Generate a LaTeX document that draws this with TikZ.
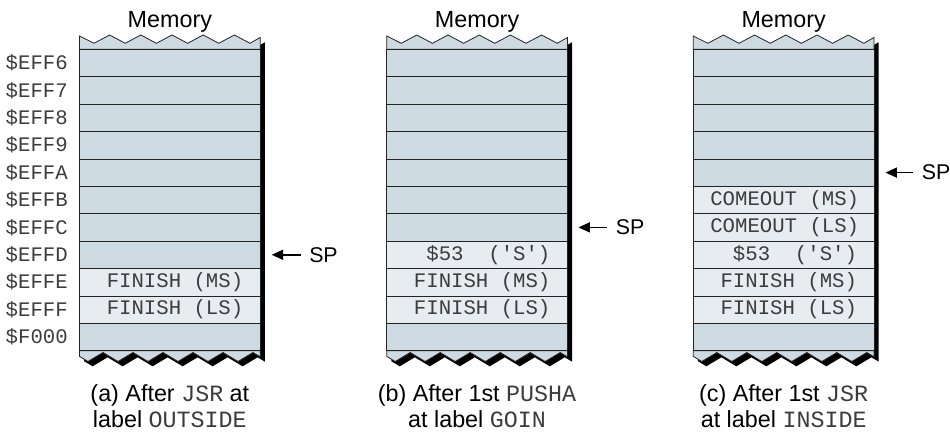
\documentclass[tikz,border=0pt]{standalone}
\usepackage{fontspec}
\setmainfont{Liberation Sans}
\newfontfamily\monof{Liberation Mono}
\usetikzlibrary{arrows.meta}
\definecolor{celldark}{RGB}{205,218,225}
\definecolor{celllight}{RGB}{230,236,239}
\definecolor{monogray}{RGB}{60,60,60}
\definecolor{edgecol}{RGB}{35,35,35}
\newcommand{\mt}[1]{{\monof\color{monogray}#1}}
\newcommand{\msp}{\hspace*{0.6em}}
\tikzset{
  cellbox/.style={draw=edgecol, line width=0.6pt, minimum width=135.525pt, minimum height=20.55pt,
    inner sep=0pt, outer sep=0pt, text width=110pt, align=right,
    font=\monof\fontsize{15.5}{15.5}\selectfont, text=monogray},
  darkcell/.style={cellbox, fill=celldark},
  lightcell/.style={cellbox, fill=celllight},
  addrlabel/.style={anchor=east, inner sep=0pt, font=\monof\fontsize{15.5}{15.5}\selectfont, text=monogray},
  headlabel/.style={anchor=base, inner sep=0pt, font=\fontsize{17.5}{17.5}\selectfont},
  caplabel/.style={anchor=base, inner sep=0pt, font=\fontsize{17.5}{17.5}\selectfont},
  splabel/.style={anchor=west, inner sep=0pt, font=\fontsize{16}{16}\selectfont},
  sparrow/.style={-{Triangle[length=8.5pt,width=7.5pt]}, line width=1.1pt, shorten <=6.3pt},
  waveline/.style={draw=edgecol, line width=0.6pt, fill=celldark},
}
\newcommand{\topwave}{(0,36) -- (14.5,43.3) -- (30.1,35) -- (45.7,43.3) -- (61.3,35) -- (76.9,43.3) -- (92.5,35) -- (108.1,43.3) -- (123.7,35) -- (139.3,43.3) -- (154.9,35) -- (170.5,43.3) -- (180.7,37.5)}
\newcommand{\botwaverev}{(180.7,356.8) -- (173.5,352.5) -- (158.5,361.5) -- (143.5,352.5) -- (128.5,361.5) -- (113.5,352.5) -- (98.5,361.5) -- (83.5,352.5) -- (68.5,361.5) -- (53.5,352.5) -- (38.5,361.5) -- (23.5,352.5) -- (8.5,361.5) -- (0,356.4)}
% #1 = left x, #2 = name prefix
\newcommand{\memcolumn}[2]{%
  \begin{scope}[shift={(#1,0)}]
    % shadow
    \fill[black, shift={(4.6,4.8)}] \topwave -- \botwaverev -- cycle;
    % top wave part
    \path[waveline] \topwave -- (180.7,49.3) -- (0,49.3) -- cycle;
    % bottom wave part
    \path[waveline] (0,350.7) -- (180.7,350.7) -- \botwaverev -- cycle;
    \node[headlabel] (#2-head) at (90.35,28) {Memory};
  \end{scope}}
\begin{document}
\begin{tikzpicture}[x=0.75pt, y=-0.75pt]
\useasboundingbox (0,0) rectangle (950,435);
\memcolumn{79.5}{A}
\memcolumn{386.7}{B}
\memcolumn{693.3}{C}
% addresses
\foreach \lab [count=\i from 0] in {\$EFF6,\$EFF7,\$EFF8,\$EFF9,\$EFFA,\$EFFB,\$EFFC,\$EFFD,\$EFFE,\$EFFF,\$F000}{
  \node[addrlabel] (addr-\i) at (68, 49.3+27.4*\i+13.7) {\lab};
}
% column A cells
\foreach \i in {0,...,7,10}{
  \node[darkcell] (A-\i) at (169.85, 49.3+27.4*\i+13.7) {};
}
\node[lightcell] (A-8) at (169.85, 49.3+27.4*8+13.7) {FINISH\msp(MS)};
\node[lightcell] (A-9) at (169.85, 49.3+27.4*9+13.7) {FINISH\msp(LS)};
% column B cells
\foreach \i in {0,...,6,10}{
  \node[darkcell] (B-\i) at (477.05, 49.3+27.4*\i+13.7) {};
}
\node[lightcell] (B-7) at (477.05, 49.3+27.4*7+13.7) {\$53\msp\msp('S')};
\node[lightcell] (B-8) at (477.05, 49.3+27.4*8+13.7) {FINISH\msp(MS)};
\node[lightcell] (B-9) at (477.05, 49.3+27.4*9+13.7) {FINISH\msp(LS)};
% column C cells
\foreach \i in {0,...,4,10}{
  \node[darkcell] (C-\i) at (783.65, 49.3+27.4*\i+13.7) {};
}
\node[lightcell] (C-5) at (783.65, 49.3+27.4*5+13.7) {COMEOUT\msp(MS)};
\node[lightcell] (C-6) at (783.65, 49.3+27.4*6+13.7) {COMEOUT\msp(LS)};
\node[lightcell] (C-7) at (783.65, 49.3+27.4*7+13.7) {\$53\msp\msp('S')};
\node[lightcell] (C-8) at (783.65, 49.3+27.4*8+13.7) {FINISH\msp(MS)};
\node[lightcell] (C-9) at (783.65, 49.3+27.4*9+13.7) {FINISH\msp(LS)};
% SP pointers
\coordinate (tipA) at (271.7, 254.8);
\node[splabel] (spA) at (309, 254.8) {SP};
\draw[sparrow] (spA.west) -- (tipA);
\coordinate (tipB) at (578.5, 227.4);
\node[splabel] (spB) at (615.5, 227.4) {SP};
\draw[sparrow] (spB.west) -- (tipB);
\coordinate (tipC) at (885.5, 172.6);
\node[splabel] (spC) at (921.5, 172.6) {SP};
\draw[sparrow] (spC.west) -- (tipC);
% captions
\node[caplabel] (capA1) at (169.85, 401) {(a) After \mt{JSR} at};
\node[caplabel] (capA2) at (169.85, 427) {label \mt{OUTSIDE}};
\node[caplabel] (capB1) at (477.05, 401) {(b) After 1st \mt{PUSHA}};
\node[caplabel] (capB2) at (477.05, 427) {at label \mt{GOIN}};
\node[caplabel] (capC1) at (783.65, 401) {(c) After 1st \mt{JSR}};
\node[caplabel] (capC2) at (783.65, 427) {at label \mt{INSIDE}};
\end{tikzpicture}
\end{document}
